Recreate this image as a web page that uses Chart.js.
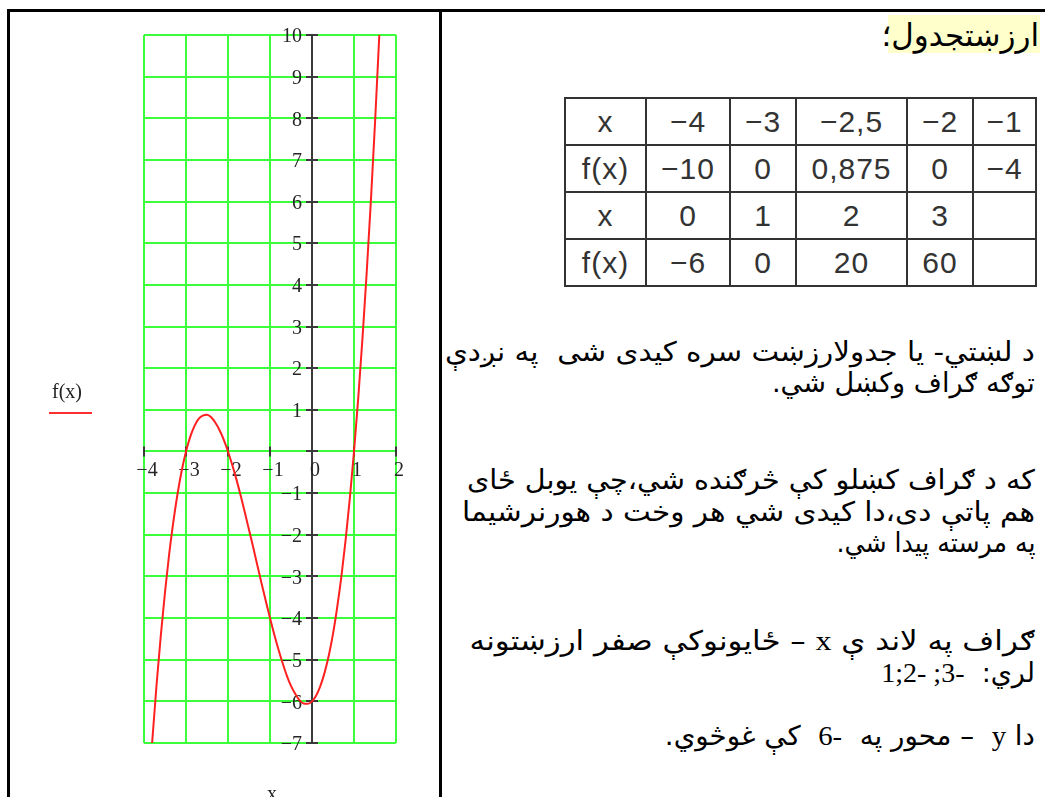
<!DOCTYPE html>
<html lang="ps">
<head>
<meta charset="utf-8">
<title>f(x)</title>
<script src="https://cdn.jsdelivr.net/npm/chart.js@4.4.1/dist/chart.umd.min.js"></script>
<style>
  html, body { margin:0; padding:0; background:#fff; }
  body { width:1045px; height:797px; position:relative; overflow:hidden; }
  #plot { position:absolute; left:0; top:0; }
  .rule { position:absolute; background:#000; }
  .legend-label { position:absolute; left:52px; top:380px; font:20px "Liberation Serif", serif; color:#222; line-height:22px; }
  .legend-line { position:absolute; left:49px; top:412px; width:43px; height:2px; background:#ff3030; }
  .axis-title { position:absolute; left:267px; top:782px; font:20px "Liberation Serif", serif; color:#222; line-height:22px; }
  .hl { position:absolute; left:888px; top:15px; width:152px; height:38px; background:#ffffcc; }
  .ln { position:absolute; right:10px; height:32px; line-height:32px; font-size:27px; font-family:"DejaVu Sans", sans-serif; color:#000; white-space:pre; }
  .ln span.t { display:inline-block; direction:rtl; unicode-bidi:isolate; transform-origin:100% 50%; }
  .lat { font-family:"Liberation Serif", serif; font-size:28px; }
  table.vals { position:absolute; left:564px; top:97px; border-collapse:collapse; table-layout:fixed; font:30px "Liberation Sans", Arial, sans-serif; color:#333; letter-spacing:1px; }
  table.vals td { border:2px solid #333; text-align:center; padding:0; height:45px; line-height:30px; }
</style>
</head>
<body>
<canvas id="plot" width="440" height="797" style="width:440px;height:797px"></canvas>

<div class="rule" style="left:7px;top:9px;width:1038px;height:3px"></div>
<div class="rule" style="left:7px;top:9px;width:3px;height:788px"></div>
<div class="rule" style="left:439px;top:9px;width:3px;height:788px"></div>

<div class="legend-label">f(x)</div>
<div class="legend-line"></div>
<div class="axis-title">x</div>

<div class="hl"></div>
<div class="ln" style="top:18px;right:6px;font-size:31px;height:34px;line-height:34px;"><span class="t">ارزښتجدول؛</span></div>

<table class="vals" id="vals">
  <colgroup><col style="width:81px"><col style="width:84px"><col style="width:66px"><col style="width:111px"><col style="width:66px"><col style="width:63px"></colgroup>
  <tbody></tbody>
</table>

<div class="ln" data-left="445" style="top:336px;"><span class="t">د لښتي- یا جدولارزښت سره کیدی شی  په نږدې</span></div>
<div class="ln" data-left="772" style="top:367px;"><span class="t">توګه ګراف وکښل شي.</span></div>

<div class="ln" data-left="467" style="top:464px;"><span class="t">که د ګراف کښلو کې څرګنده شي،چې یوبل ځای</span></div>
<div class="ln" data-left="462" style="top:496px;"><span class="t">هم پاتې دی،دا کیدی شي هر وخت د هورنرشیما</span></div>
<div class="ln" data-left="836" style="top:527px;"><span class="t">په مرسته پیدا شي.</span></div>

<div class="ln" data-left="470" style="top:625px;"><span class="t">ګراف په لاند ې <span class="lat">x</span> – ځایونوکې صفر ارزښتونه</span></div>
<div class="ln" style="top:657px;"><span class="t">لري:  <span class="lat">-3; -2;1</span></span></div>

<div class="ln" data-left="665" style="top:720px;"><span class="t">دا <span class="lat">y</span>  – محور په  <span class="lat">-6</span>  کې غوڅوي.</span></div>

<script>
// ---- data ----
const seriesLabel = 'f(x)';
const curveX = [-3.9,-3.8,-3.7,-3.6,-3.5,-3.4,-3.3,-3.2,-3.1,-3.0,
                -2.9,-2.8,-2.7,-2.6,-2.5,-2.4,-2.3,-2.2,-2.1,-2.0,
                -1.9,-1.8,-1.7,-1.6,-1.5,-1.4,-1.3,-1.2,-1.1,-1.0,
                -0.9,-0.8,-0.7,-0.6,-0.5,-0.4,-0.3,-0.2,-0.1,0,
                0.1,0.2,0.3,0.4,0.5,0.6,0.7,0.8,0.9,1.0,
                1.1,1.2,1.3,1.4,1.5,1.6,1.7];
const curveY = [-8.38,-6.91,-5.59,-4.42,-3.38,-2.46,-1.68,-1.01,-0.45,0,
                0.35,0.61,0.78,0.86,0.88,0.82,0.69,0.51,0.28,0,
                -0.32,-0.67,-1.05,-1.46,-1.88,-2.30,-2.74,-3.17,-3.59,-4,
                -4.39,-4.75,-5.08,-5.38,-5.63,-5.82,-5.97,-6.05,-6.06,-6,
                -5.86,-5.63,-5.31,-4.90,-4.38,-3.74,-3.00,-2.13,-1.13,0,
                1.27,2.69,4.26,5.98,7.88,9.94,12.17];
const xTickValues = [-4,-3,-2,-1,0,1,2];
const yTickValues = [-7,-6,-5,-4,-3,-2,-1,0,1,2,3,4,5,6,7,8,9,10];
const yTickHidden = [0];

const tableXTop = [-4,-3,-2.5,-2,-1];
const tableFTop = [-10,0,0.875,0,-4];
const tableXBottom = [0,1,2,3];
const tableFBottom = [-6,0,20,60];

// ---- helpers ----
const fmt = v => (v < 0 ? '\u2212' : '') + String(Math.abs(v)).replace('.', ',');
const fmtAxis = v => (v < 0 ? '\u2212' : '') + String(Math.abs(v));

(function buildTable(){
  const tb = document.querySelector('#vals tbody');
  const rows = [
    ['x'].concat(tableXTop.map(fmt)),
    ['f(x)'].concat(tableFTop.map(fmt)),
    ['x'].concat(tableXBottom.map(fmt)),
    ['f(x)'].concat(tableFBottom.map(fmt))
  ];
  rows.forEach(r => {
    const tr = document.createElement('tr');
    for (let i = 0; i < 6; i++) {
      const td = document.createElement('td');
      td.textContent = r[i] !== undefined ? r[i] : '';
      tr.appendChild(td);
    }
    tb.appendChild(tr);
  });
})();

// fit Pashto lines horizontally
document.querySelectorAll('.ln').forEach(d => {
  const left = d.getAttribute('data-left');
  if (!left) return;
  const right = Number(d.getAttribute('data-right') || 1035);
  const s = d.querySelector('span.t');
  const w = s.getBoundingClientRect().width;
  s.style.transform = 'scaleX(' + ((right - Number(left)) / w) + ')';
});

const gridGreen = '#3cff3c';
const axisDark = '#3a3a3a';

const mathcadAxes = {
  id: 'mathcadAxes',
  beforeDatasetsDraw(chart) {
    const {ctx, chartArea, scales: {x, y}} = chart;
    const x0 = x.getPixelForValue(0);
    const y0 = y.getPixelForValue(0);
    ctx.save();
    ctx.strokeStyle = axisDark;
    ctx.lineWidth = 2;
    ctx.beginPath();
    ctx.moveTo(Math.round(x0), chartArea.top);
    ctx.lineTo(Math.round(x0), chartArea.bottom);
    ctx.stroke();
    yTickValues.forEach(v => {
      const py = Math.round(y.getPixelForValue(v));
      ctx.beginPath();
      ctx.moveTo(x0 - 6, py);
      ctx.lineTo(x0 + 6, py);
      ctx.stroke();
    });
    xTickValues.forEach(v => {
      const px = Math.round(x.getPixelForValue(v));
      ctx.beginPath();
      ctx.moveTo(px, y0 - 5);
      ctx.lineTo(px, y0 + 5);
      ctx.stroke();
    });
    ctx.fillStyle = '#262626';
    ctx.font = '20px "Liberation Serif", serif';
    ctx.textAlign = 'right';
    ctx.textBaseline = 'middle';
    yTickValues.forEach(v => {
      if (yTickHidden.includes(v)) return;
      ctx.fillText(fmtAxis(v), x0 - 10, y.getPixelForValue(v) + 2);
    });
    ctx.textAlign = 'center';
    ctx.textBaseline = 'top';
    xTickValues.forEach(v => {
      ctx.fillText(fmtAxis(v), x.getPixelForValue(v) + 3, y0 + 9);
    });
    ctx.restore();
  }
};

new Chart(document.getElementById('plot'), {
  type: 'line',
  data: {
    datasets: [{
      label: seriesLabel,
      data: curveX.map((xv, i) => ({x: xv, y: curveY[i]})),
      borderColor: '#ff2020',
      borderWidth: 2,
      pointRadius: 0,
      cubicInterpolationMode: 'monotone',
      fill: false
    }]
  },
  options: {
    responsive: false,
    animation: false,
    devicePixelRatio: 1,
    layout: {padding: {left: 144, right: 44, top: 35, bottom: 54}},
    plugins: {legend: {display: false}, tooltip: {enabled: false}},
    scales: {
      x: {
        type: 'linear', min: -4, max: 2,
        ticks: {display: false, stepSize: 1},
        grid: {color: gridGreen, lineWidth: 2, drawTicks: false},
        border: {display: false}
      },
      y: {
        type: 'linear', min: -7, max: 10,
        ticks: {display: false, stepSize: 1},
        grid: {color: gridGreen, lineWidth: 2, drawTicks: false},
        border: {display: false}
      }
    }
  },
  plugins: [mathcadAxes]
});
</script>
</body>
</html>
